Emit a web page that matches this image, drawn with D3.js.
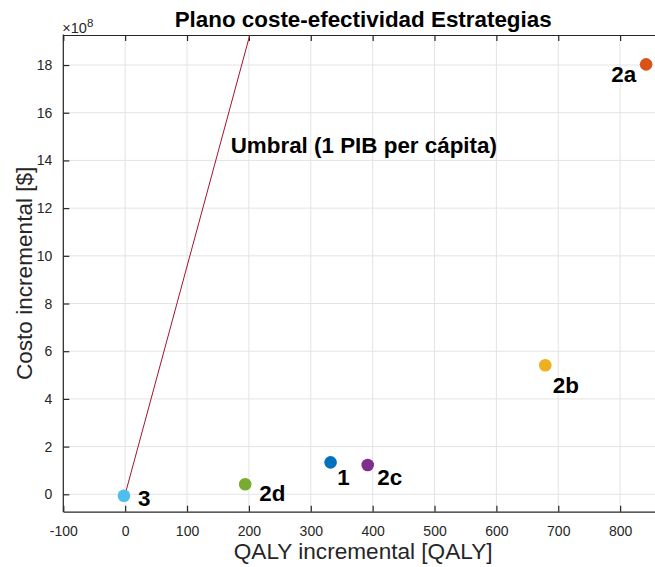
<!DOCTYPE html>
<html>
<head>
<meta charset="utf-8">
<script src="https://cdn.jsdelivr.net/npm/d3@7"></script>
<style>
  html, body { margin: 0; padding: 0; background: #fff; }
  svg { display: block; font-family: "Liberation Sans", Arial, Helvetica, sans-serif; }
</style>
</head>
<body>
<svg id="chart" width="655" height="567"></svg>
<script>
// ---- data ----
const strategies = ["1", "2a", "2b", "2c", "2d", "3"];
const qalyIncremental = [332, 842, 679, 392, 194, -2];
const costIncremental = [1.34e8, 18.03e8, 5.41e8, 1.23e8, 0.42e8, -0.06e8];
const thresholdPerQaly = 9.56e6; // 1 PIB per cápita
const thresholdQaly = [0, 260];
const xTicks = [-100, 0, 100, 200, 300, 400, 500, 600, 700, 800];
const yTicks = [0, 2, 4, 6, 8, 10, 12, 14, 16, 18];

// ---- styles ----
const colors = {"1": "#0072BD", "2a": "#D95319", "2b": "#EDB120", "2c": "#7E2F8E", "2d": "#77AC30", "3": "#4DBEEE"};
const labelOffset = {"1": [6.7, 22.7, "start"], "2a": [-10, 17.4, "end"], "2b": [7.6, 27.4, "start"],
                     "2c": [9.6, 20, "start"], "2d": [14, 16.7, "start"], "3": [14, 10, "start"]};
const axisColor = "#262626";
const gridColor = "#e3e3e3";
const boldSize = 22.4;

const margin = {left: 63.3, top: 35, right: 663, bottom: 511.7};
const svg = d3.select("#chart");

const x = d3.scaleLinear().domain([-100, 869.3]).range([margin.left, margin.right]);
const y = d3.scaleLinear().domain([-0.73, 19.26]).range([margin.bottom, margin.top]);

svg.append("defs").append("clipPath").attr("id", "clip")
  .append("rect").attr("x", margin.left).attr("y", margin.top)
  .attr("width", margin.right - margin.left).attr("height", margin.bottom - margin.top);

// grid
const grid = svg.append("g");
grid.selectAll(".gx").data(xTicks).enter().append("line")
  .attr("x1", d => x(d)).attr("x2", d => x(d))
  .attr("y1", margin.top).attr("y2", margin.bottom)
  .attr("stroke", gridColor).attr("stroke-width", 1);
grid.selectAll(".gy").data(yTicks).enter().append("line")
  .attr("x1", margin.left).attr("x2", margin.right)
  .attr("y1", d => y(d)).attr("y2", d => y(d))
  .attr("stroke", gridColor).attr("stroke-width", 1);

// axes (ticks inward)
const fmt = d => String(d);
const xAxisBottom = d3.axisBottom(x).tickValues(xTicks).tickFormat(fmt).tickSizeInner(-6).tickSizeOuter(0).tickPadding(14);
const gxb = svg.append("g").attr("transform", `translate(0,${margin.bottom})`).call(xAxisBottom);
const xAxisTop = d3.axisTop(x).tickValues(xTicks).tickSizeInner(-6).tickSizeOuter(0).tickFormat("");
const gxt = svg.append("g").attr("transform", `translate(0,${margin.top})`).call(xAxisTop);
const yAxis = d3.axisLeft(y).tickValues(yTicks).tickFormat(fmt).tickSizeInner(-6).tickSizeOuter(0).tickPadding(11);
const gy = svg.append("g").attr("transform", `translate(${margin.left},0)`).call(yAxis);

[gxb, gxt, gy].forEach(g => {
  g.select(".domain").attr("stroke", axisColor).attr("stroke-width", 1.2);
  g.selectAll(".tick line").attr("stroke", axisColor).attr("stroke-width", 1.2);
  g.selectAll(".tick text").attr("fill", axisColor).attr("font-size", 14)
    .attr("font-family", "Liberation Sans, Arial, sans-serif");
});
gy.select(".domain").attr("d", `M0,${margin.top - 0.5}V${margin.bottom + 0.5}`);

// exponent label
const expo = svg.append("text").attr("x", margin.left - 1).attr("y", 32.5)
  .attr("fill", axisColor).attr("font-size", 14.5);
expo.append("tspan").text("×10");
expo.append("tspan").attr("dy", -6).attr("font-size", 11.5).text("8");

// threshold line
const plot = svg.append("g").attr("clip-path", "url(#clip)");
plot.append("line")
  .attr("x1", x(thresholdQaly[0])).attr("y1", y(thresholdQaly[0] * thresholdPerQaly / 1e8))
  .attr("x2", x(thresholdQaly[1])).attr("y2", y(thresholdQaly[1] * thresholdPerQaly / 1e8))
  .attr("stroke", "#A2142F").attr("stroke-width", 1);

svg.append("text").attr("x", 230.7).attr("y", 153)
  .attr("font-size", boldSize).attr("font-weight", "bold").attr("fill", "#000")
  .text("Umbral (1 PIB per cápita)");

// points
const pts = strategies.map((s, i) => ({s, q: qalyIncremental[i], c: costIncremental[i] / 1e8}));
plot.selectAll("circle").data(pts).enter().append("circle")
  .attr("cx", d => x(d.q)).attr("cy", d => y(d.c)).attr("r", 6.3)
  .attr("fill", d => colors[d.s]);

svg.selectAll(".lbl").data(pts).enter().append("text")
  .attr("x", d => x(d.q) + labelOffset[d.s][0])
  .attr("y", d => y(d.c) + labelOffset[d.s][1])
  .attr("text-anchor", d => labelOffset[d.s][2])
  .attr("font-size", boldSize).attr("font-weight", "bold").attr("fill", "#000")
  .text(d => d.s);

// title & axis labels
svg.append("text").attr("x", (margin.left + margin.right) / 2).attr("y", 26.7)
  .attr("text-anchor", "middle").attr("font-size", boldSize).attr("font-weight", "bold")
  .attr("fill", "#000").text("Plano coste-efectividad Estrategias");

svg.append("text").attr("x", (margin.left + margin.right) / 2).attr("y", 559)
  .attr("text-anchor", "middle").attr("font-size", 22.6).attr("fill", axisColor)
  .text("QALY incremental [QALY]");

svg.append("text").attr("transform", `translate(32,${(margin.top + margin.bottom) / 2}) rotate(-90)`)
  .attr("text-anchor", "middle").attr("font-size", 22.6).attr("fill", axisColor)
  .text("Costo incremental [$]");
</script>
</body>
</html>
